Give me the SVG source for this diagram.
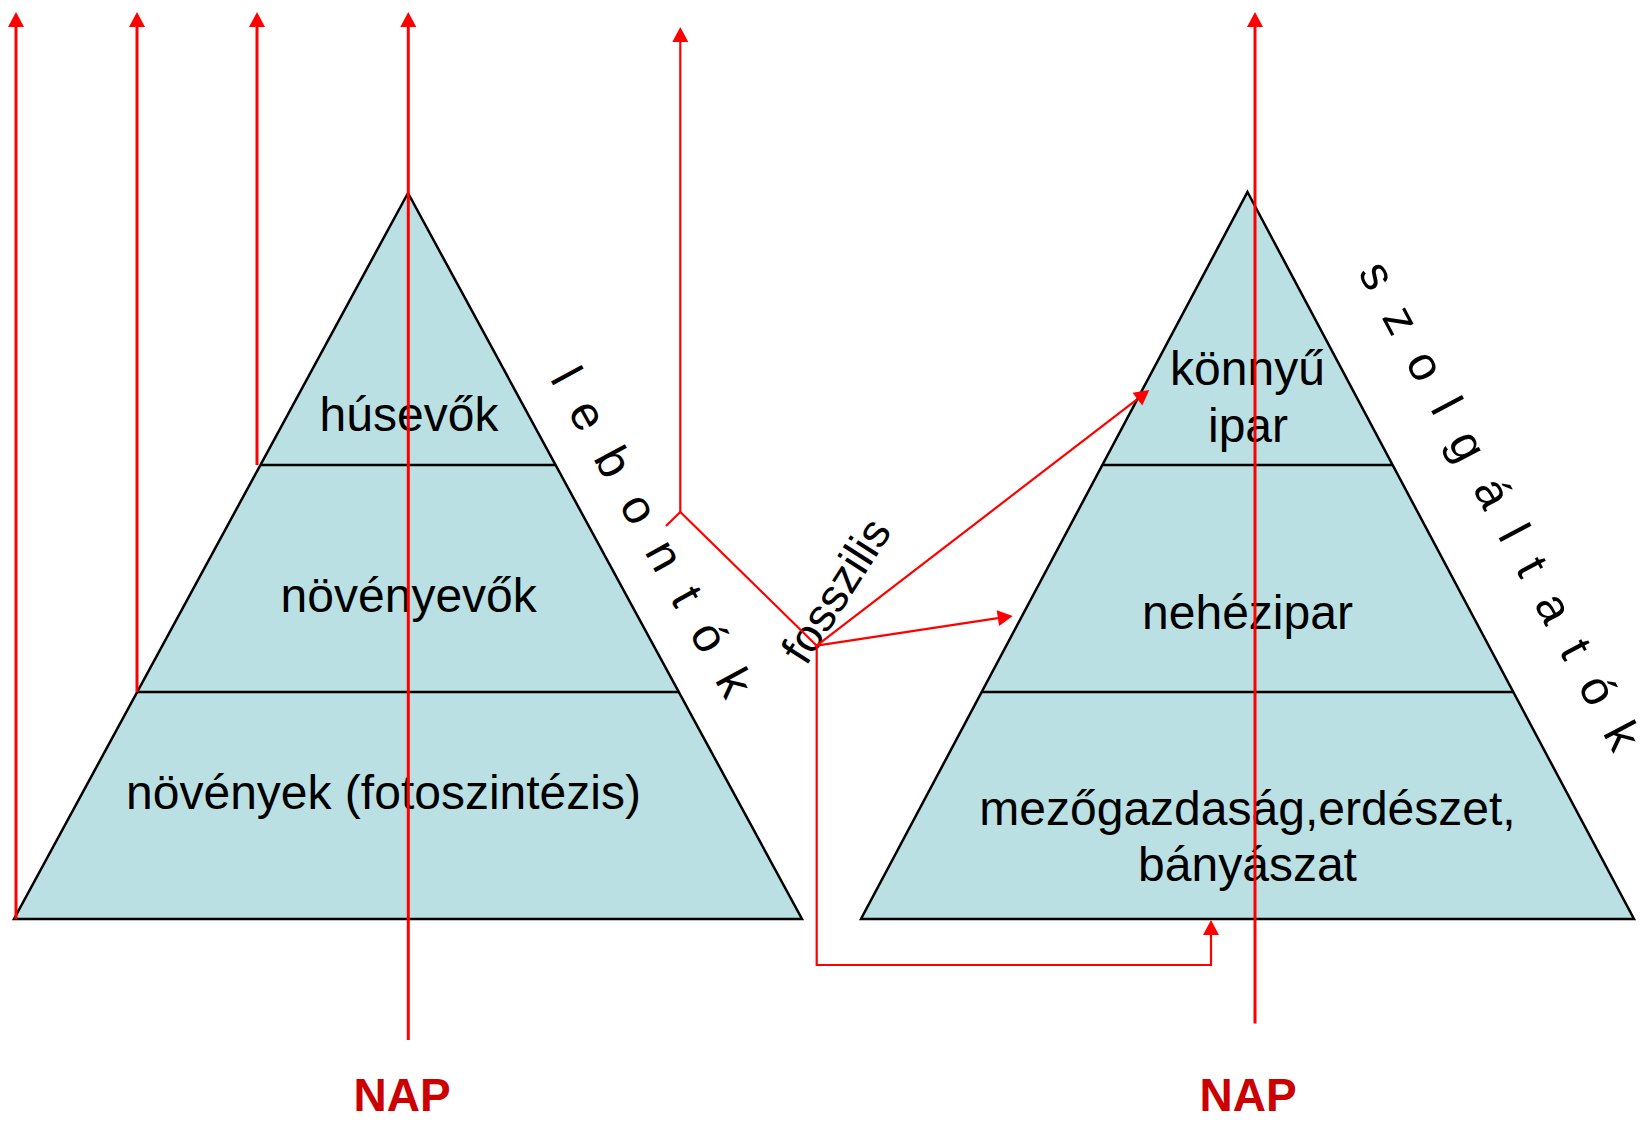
<svg xmlns="http://www.w3.org/2000/svg" width="1641" height="1128" viewBox="0 0 1641 1128">
<style>
.pyr{fill:#BBE0E3;stroke:#000;stroke-width:2.5;stroke-linejoin:miter}
.div{stroke:#000;stroke-width:2.5}
.lbl{font-family:"Liberation Sans",Arial,sans-serif;font-size:48px;fill:#000;text-anchor:middle}
.rot{font-family:"Liberation Sans",Arial,sans-serif;font-size:48px;fill:#000;letter-spacing:6.6px}
.fos{font-family:"Liberation Sans",Arial,sans-serif;font-size:46px;fill:#000}
.nap{font-family:"Liberation Sans",Arial,sans-serif;font-size:46px;font-weight:bold;fill:#CC0000;text-anchor:middle}
.r3{stroke:#FF0000;stroke-width:3;fill:none}
.r2{stroke:#FF0000;stroke-width:2.2;fill:none}
</style>
<defs>
<marker id="ah" markerUnits="userSpaceOnUse" markerWidth="16" markerHeight="16" refX="0" refY="8" orient="auto" overflow="visible">
<path d="M0,0 L15,8 L0,16 Z" fill="#FF0000"/>
</marker>
</defs>
<rect width="1641" height="1128" fill="#FFFFFF"/>
<g id="left-pyramid">
<polygon class="pyr" points="408,193 802,919 14,919"/>
<line class="div" x1="260.4" y1="465" x2="555.6" y2="465"/>
<line class="div" x1="137.2" y1="692" x2="678.8" y2="692"/>
</g>
<g id="right-pyramid">
<polygon class="pyr" points="1247.5,192 1634,919 861,919"/>
<line class="div" x1="1102.4" y1="465" x2="1392.6" y2="465"/>
<line class="div" x1="981.7" y1="692" x2="1513.3" y2="692"/>
</g>
<g id="husevok"><text class="lbl" x="409" y="431">húsevők</text></g>
<g id="novenyevok"><text class="lbl" x="408.7" y="611.5">növényevők</text></g>
<g id="novenyek"><text class="lbl" x="383.5" y="809">növények (fotoszintézis)</text></g>
<g id="konnyuipar"><text class="lbl" x="1247.5" y="385">könnyű</text><text class="lbl" x="1248" y="441.5">ipar</text></g>
<g id="nehezipar"><text class="lbl" x="1247.5" y="629">nehézipar</text></g>
<g id="mezogazdasag"><text class="lbl" x="1247.5" y="824.5">mezőgazdaság,erdészet,</text><text class="lbl" x="1247.5" y="881">bányászat</text></g>
<g id="lebontok"><text class="rot" transform="translate(549.4,378.7) rotate(61.3)">l e b o n t ó k</text></g>
<g id="szolgaltatok"><text class="rot" transform="translate(1357.4,272.3) rotate(62)">s z o l g á l t a t ó k</text></g>
<g id="fosszilis"><text class="fos" transform="translate(806,667) rotate(-57.5)">fosszilis</text></g>
<g id="nap-left"><text class="nap" x="402" y="1111">NAP</text></g>
<g id="nap-right"><text class="nap" x="1248" y="1111">NAP</text></g>
<g id="connectors">
<line class="r3" x1="16" y1="919" x2="16" y2="27" marker-end="url(#ah)"/>
<line class="r3" x1="137" y1="692" x2="137" y2="27" marker-end="url(#ah)"/>
<line class="r3" x1="257" y1="465" x2="257" y2="27" marker-end="url(#ah)"/>
<line class="r3" x1="408.3" y1="1040" x2="408.3" y2="27" marker-end="url(#ah)"/>
<line class="r3" x1="1255" y1="1023.5" x2="1255" y2="27" marker-end="url(#ah)"/>
<line class="r2" x1="680.3" y1="512" x2="680.3" y2="42" marker-end="url(#ah)"/>
<polyline class="r2" points="666,526 680.3,512 816.7,645.7"/>
<line class="r2" x1="816.7" y1="645.7" x2="1137.4" y2="399.1" marker-end="url(#ah)"/>
<line class="r2" x1="816.7" y1="645.7" x2="997.9" y2="618.2" marker-end="url(#ah)"/>
<polyline class="r2" points="816.7,645.7 816.7,965 1211,965 1211,935" marker-end="url(#ah)"/>
</g>
</svg>
